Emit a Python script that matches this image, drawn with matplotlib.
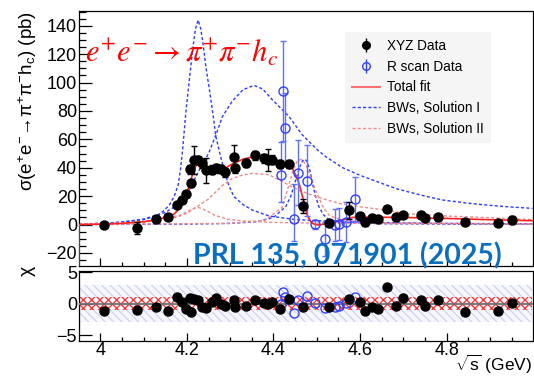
import matplotlib
matplotlib.use("Agg")
import matplotlib.pyplot as plt
from matplotlib.lines import Line2D
from matplotlib.ticker import MultipleLocator, FixedLocator

plt.rcParams['font.family'] = ['Liberation Sans', 'DejaVu Sans']
plt.rcParams['mathtext.fontset'] = 'custom'
plt.rcParams['mathtext.rm'] = 'Liberation Sans'
plt.rcParams['mathtext.it'] = 'Liberation Sans:italic'
plt.rcParams['hatch.linewidth'] = 0.9

# ---------------- XYZ data sample ----------------
e_xyz = [4.0076, 4.0854, 4.1285, 4.1574, 4.1784, 4.1888, 4.1989, 4.2073, 4.2092,
         4.2171, 4.2263, 4.2357, 4.2438, 4.2580, 4.2668, 4.2777, 4.2879, 4.3079,
         4.3121, 4.3374, 4.3583, 4.3774, 4.3874, 4.3964, 4.4156, 4.4362, 4.4671,
         4.5271, 4.5745, 4.5995, 4.6119, 4.6280, 4.6409, 4.6612, 4.6819, 4.6988,
         4.7397, 4.7500, 4.7805, 4.8431, 4.9180, 4.9509]
sig_xyz = [-0.4, -2.2, 3.7, 5.5, 13.7, 17.3, 21.5, 38.9, 29.2,
           45.4, 45.4, 43.0, 38.2, 38.6, 39.6, 39.0, 36.8, 47.5,
           39.6, 43.5, 48.7, 46.6, 45.4, 45.8, 42.5, 42.8, 13.0,
           1.3, 10.2, 6.0, 1.5, 4.6, 4.1, 10.7, 5.1, 6.7,
           6.7, 4.4, 5.5, 2.0, 1.3, 3.2]
err_xyz = [2.0, 4.2, 2.0, 2.0, 2.0, 2.0, 2.0, 3.0, 2.5,
           10.0, 3.0, 3.0, 9.0, 3.0, 3.0, 3.0, 3.0, 8.7,
           3.0, 3.0, 3.0, 3.0, 8.0, 3.0, 3.0, 3.0, 5.0,
           2.0, 6.0, 2.0, 2.5, 2.0, 2.0, 2.0, 2.0, 2.0,
           2.0, 2.0, 2.0, 2.0, 2.0, 2.5]
chi_xyz = [-1.16, -1.0, -0.58, -1.1, 1.0, 0.2, -0.85, 0.86, -1.27,
           0.75, 0.6, -0.47, -0.63, 0.2, 0.97, -0.05, -0.3, 0.6,
           -0.47, -0.3, 0.64, 0.06, -0.1, 0.2, -0.85, 0.7, -0.47,
           -0.47, 0.75, 0.32, -1.1, -0.47, -0.85, 2.7, -0.3, 0.97,
           0.6, -0.3, 0.6, -1.27, -1.1, 0.06]

# ---------------- R scan data sample ----------------
e_rs = [4.417, 4.422, 4.427, 4.4475, 4.457, 4.478, 4.497, 4.519, 4.541,
        4.551, 4.568, 4.588]
sig_rs = [34.9, 94.0, 67.7, 3.7, 36.5, 30.8, 0.1, -10.5, -0.4,
          0.3, 2.0, 17.7]
err_rs_lo = [19.0, 35.0, 25.0, 15.0, 23.0, 25.0, 3.0, 12.0, 11.0,
             11.0, 14.0, 15.5]
err_rs_hi = [23.0, 35.0, 25.0, 25.0, 23.0, 25.0, 3.0, 12.0, 11.0,
             11.0, 14.0, 15.5]
chi_rs = [-0.1, 1.8, 1.0, -1.5, 0.6, 1.27, 0.06, -0.73, -0.47,
          -0.4, 0.06, 1.0]

# ---------------- fit curves ----------------
fit_e = [3.9505, 3.951, 4.00, 4.05, 4.10, 4.13, 4.16, 4.171, 4.18, 4.19, 4.20,
         4.205, 4.21, 4.215, 4.22, 4.228, 4.235, 4.245, 4.255, 4.27, 4.29,
         4.31, 4.33, 4.35, 4.37, 4.39, 4.41, 4.428, 4.444, 4.452, 4.459,
         4.465, 4.471, 4.478, 4.485, 4.49, 4.497, 4.505, 4.515, 4.528, 4.551,
         4.582, 4.62, 4.70, 4.80, 4.90, 4.998]
fit_s = [-35.0, 0.0, 0.3, 0.8, 2.0, 3.3, 6.0, 7.5, 10.5, 16.0, 22.0,
         27.0, 32.0, 37.5, 41.0, 43.0, 42.0, 39.5, 37.5, 37.5, 40.0,
         43.5, 46.0, 47.5, 47.8, 46.8, 45.0, 43.0, 39.6, 34.0, 29.0,
         22.0, 15.0, 6.7, 2.5, 0.8, 0.0, -0.3, 0.2, 0.8, 2.7,
         5.0, 5.2, 5.0, 4.3, 3.4, 2.7]

# Solution I components
s1a_e = [3.951, 4.00, 4.05, 4.10, 4.13, 4.148, 4.16, 4.171, 4.18, 4.185, 4.19,
         4.194, 4.198, 4.204, 4.209, 4.215, 4.22, 4.226, 4.232, 4.238, 4.244,
         4.252, 4.259, 4.267, 4.278, 4.29, 4.298, 4.309, 4.33, 4.351, 4.39,
         4.45, 4.55, 4.70, 4.85, 4.998]
s1a_s = [0.3, 0.8, 1.6, 3.5, 6.0, 10.0, 14.0, 20.0, 28.0, 38.0, 52.0,
         66.0, 80.0, 97.0, 111.0, 127.0, 138.0, 144.0, 138.0, 126.0, 111.0,
         95.0, 80.6, 62.0, 47.7, 34.0, 26.6, 19.6, 14.0, 10.2, 6.0,
         3.5, 2.0, 1.1, 0.7, 0.5]
s1b_e = [3.951, 4.00, 4.05, 4.10, 4.15, 4.18, 4.20, 4.228, 4.25, 4.267,
         4.282, 4.305, 4.33, 4.355, 4.375, 4.397, 4.436, 4.467, 4.50, 4.521,
         4.56, 4.597, 4.65, 4.686, 4.75, 4.79, 4.85, 4.90, 4.95, 4.998]
s1b_s = [0.4, 0.8, 1.8, 3.8, 8.5, 14.0, 21.0, 38.0, 50.0, 63.0,
         76.0, 87.0, 95.0, 98.0, 95.5, 88.0, 76.0, 63.0, 53.0, 47.7,
         40.0, 35.0, 29.0, 25.0, 20.0, 17.3, 15.0, 13.5, 12.3, 11.4]
s1c_e = [3.951, 4.20, 4.30, 4.36, 4.40, 4.428, 4.44, 4.451, 4.46, 4.467,
         4.473, 4.478, 4.485, 4.49, 4.497, 4.505, 4.515, 4.528, 4.56, 4.65,
         4.80, 4.998]
s1c_s = [0.0, 0.3, 0.8, 2.0, 5.0, 12.5, 20.0, 31.0, 40.0, 45.0,
         46.0, 44.0, 37.0, 29.0, 20.0, 12.5, 7.0, 3.5, 1.5, 0.6,
         0.3, 0.2]

# Solution II components
s2a_e = [3.951, 4.00, 4.05, 4.10, 4.136, 4.16, 4.186, 4.20, 4.212, 4.225,
         4.238, 4.25, 4.263, 4.28, 4.294, 4.33, 4.40, 4.50, 4.70, 4.998]
s2a_s = [0.3, 0.5, 1.0, 1.8, 3.5, 5.0, 6.7, 9.0, 11.0, 12.2,
         10.8, 9.0, 6.7, 5.0, 3.7, 2.5, 1.5, 1.0, 0.6, 0.4]
s2b_e = [3.951, 4.00, 4.05, 4.10, 4.15, 4.18, 4.20, 4.228, 4.25, 4.267,
         4.282, 4.305, 4.33, 4.35, 4.375, 4.39, 4.428, 4.46, 4.50, 4.55,
         4.60, 4.65, 4.713, 4.80, 4.90, 4.998]
s2b_s = [0.2, 0.4, 0.8, 1.6, 3.5, 5.5, 8.0, 13.5, 18.0, 23.0,
         27.5, 32.5, 35.0, 36.0, 35.5, 35.0, 29.0, 24.0, 19.5, 15.0,
         12.5, 10.5, 7.5, 6.0, 4.8, 3.5]
s2c_e = [3.951, 4.30, 4.38, 4.42, 4.43, 4.445, 4.455, 4.465, 4.475, 4.49,
         4.50, 4.515, 4.53, 4.57, 4.65, 4.998]
s2c_s = [0.0, 0.8, 3.0, 12.0, 22.0, 38.0, 45.0, 46.0, 42.0, 30.0,
         22.0, 12.0, 6.0, 2.5, 1.2, 0.4]

x_ticks = [4.0, 4.2, 4.4, 4.6, 4.8]
x_ticklabels = ['4', '4.2', '4.4', '4.6', '4.8']

# ---------------- figure layout ----------------
W, H = 534, 378
fig = plt.figure(figsize=(W / 100, H / 100), dpi=100)
ax = fig.add_axes([79 / W, 1 - 266 / H, 453.5 / W, 255 / H])
axc = fig.add_axes([79 / W, 1 - 341 / H, 453.5 / W, 70 / H])

xlo, xhi = 3.951, 4.998
blue = '#2a3cff'
pink = '#f08a8a'
dash = (0, (2.2, 1.6))

# fit components
for xs, ys in [(s1a_e, s1a_s), (s1b_e, s1b_s), (s1c_e, s1c_s)]:
    ax.plot(xs, ys, color=blue, lw=1.0, ls=dash, zorder=2)
for xs, ys in [(s2a_e, s2a_s), (s2b_e, s2b_s), (s2c_e, s2c_s)]:
    ax.plot(xs, ys, color=pink, lw=1.0, ls=dash, zorder=2)
ax.plot(fit_e, fit_s, color='#ff2020', lw=1.2, zorder=3)

ax.errorbar(e_rs, sig_rs, yerr=[err_rs_lo, err_rs_hi], fmt='o', ms=6.5,
            mfc='none', mec='#3040ff', mew=1.0, ecolor='#6070ff',
            elinewidth=1.0, capsize=2.5, capthick=1.0, zorder=4)
ax.errorbar(e_xyz, sig_xyz, yerr=err_xyz, fmt='o', ms=6.5, color='black',
            elinewidth=1.0, capsize=2.5, capthick=1.0, zorder=5)

ax.set_xlim(xlo, xhi)
ax.set_ylim(-29.2, 150.4)
ax.yaxis.set_major_locator(FixedLocator(list(range(-20, 141, 20))))
ax.yaxis.set_minor_locator(MultipleLocator(5))
ax.xaxis.set_major_locator(FixedLocator(x_ticks))
ax.xaxis.set_minor_locator(MultipleLocator(0.05))
ax.tick_params(axis='both', which='both', direction='in', top=False, right=False,
               labelsize=13, pad=1.5)
ax.tick_params(axis='y', which='major', length=9, width=0.9)
ax.tick_params(axis='y', which='minor', length=5, width=0.9)
ax.tick_params(axis='x', which='major', length=6, width=0.9, labelbottom=False)
ax.tick_params(axis='x', which='minor', length=3, width=0.9)
for sp in ax.spines.values():
    sp.set_linewidth(0.9)

# legend
h_xyz = ax.errorbar([], [], yerr=[], fmt='o', ms=5.5, color='black',
                    elinewidth=1.0, capsize=0)
h_rs = ax.errorbar([], [], yerr=[], fmt='o', ms=5.5, mfc='none', mec='#3040ff',
                   ecolor='#3040ff', elinewidth=1.0, capsize=0)
handles = [h_xyz, h_rs,
           Line2D([], [], color='#ff7070', lw=1.5),
           Line2D([], [], color=blue, lw=1.0, ls=dash),
           Line2D([], [], color=pink, lw=1.0, ls=dash)]
labels = ['XYZ Data', 'R scan Data', 'Total fit', 'BWs, Solution I',
          'BWs, Solution II']
leg = ax.legend(handles, labels, loc='upper left',
                bbox_to_anchor=(345 / W, 1 - 32 / H),
                bbox_transform=fig.transFigure, fontsize=9.8, frameon=True,
                fancybox=False, facecolor='#f5f5f5', edgecolor='none',
                framealpha=1.0, handlelength=2.1, handletextpad=0.5,
                labelspacing=0.5, borderpad=0.5, borderaxespad=0)
leg.set_zorder(6)

# chi panel
axc.fill_between([xlo, xhi], -3, 3, facecolor='#f6f7fd', edgecolor='#cfd3f3',
                 hatch='\\\\\\\\', linewidth=0, zorder=1)
axc.fill_between([xlo, xhi], -1, 1, facecolor='none', edgecolor='#ff3030',
                 hatch='xxxx', linewidth=0, zorder=2)
axc.axhline(0, color='#707070', lw=1.3, zorder=3)
axc.plot(e_xyz, chi_xyz, 'o', ms=6.5, color='black', zorder=5)
axc.plot(e_rs, chi_rs, 'o', ms=6.5, mfc='none', mec='#3040ff', mew=1.0, zorder=4)
axc.set_xlim(xlo, xhi)
axc.set_ylim(-5.95, 5.2)
axc.yaxis.set_major_locator(FixedLocator([-5, 0, 5]))
axc.xaxis.set_major_locator(FixedLocator(x_ticks))
axc.xaxis.set_minor_locator(MultipleLocator(0.05))
axc.set_xticklabels(x_ticklabels)
axc.tick_params(axis='both', which='both', direction='in', top=False, right=False,
                labelsize=13, pad=1.5)
axc.tick_params(axis='x', which='both', pad=0.5)
axc.tick_params(axis='y', which='major', length=9, width=0.9)
axc.tick_params(axis='x', which='major', length=6, width=0.9)
axc.tick_params(axis='x', which='minor', length=3, width=0.9)
for sp in axc.spines.values():
    sp.set_linewidth(0.9)

# titles and annotations
fig.text(28 / W, 1 - 11 / H,
         r'σ(e$^{+}$e$^{-}$→π$^{+}$π$^{-}$h$_{\mathrm{c}}$) (pb)',
         rotation=90, ha='center', va='top', fontsize=13.5)
fig.text(27 / W, 1 - 271 / H, 'χ', rotation=90, ha='center', va='center',
         fontsize=14)
fig.text(532 / W, 1 - 376.5 / H, r'$\sqrt{\mathrm{s}}$ (GeV)', ha='right',
         va='bottom', fontsize=12.5)
fig.text(85 / W, 1 - 53 / H, r'$e^{+}e^{-}\rightarrow\pi^{+}\pi^{-}h_{c}$',
         color='red', fontsize=22, ha='left', va='center', math_fontfamily='stix')
fig.text(193 / W, 1 - 256 / H, 'PRL 135, 071901 (2025)', color='#0b6fc0',
         fontsize=20.5, fontweight='bold', family=['Lato', 'DejaVu Sans'],
         ha='left', va='center')

fig.savefig('out.png', dpi=100)
